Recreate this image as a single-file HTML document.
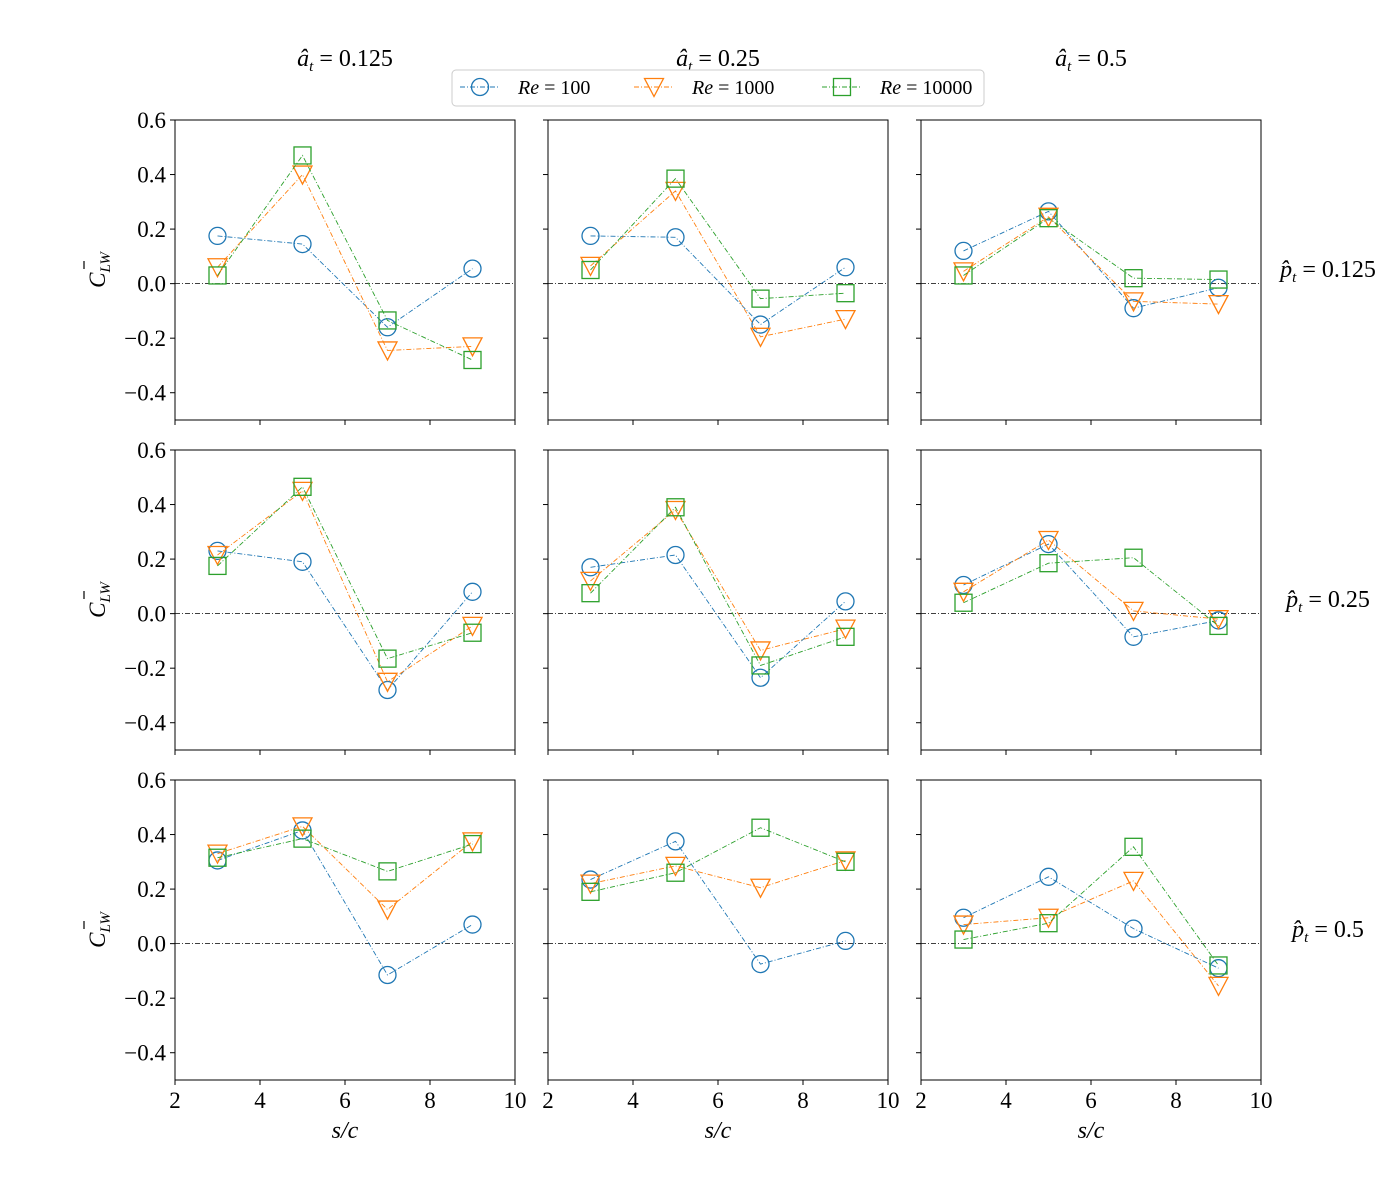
<!DOCTYPE html>
<html><head><meta charset="utf-8"><style>
body{margin:0;background:#fff}
svg{display:block;font-family:"Liberation Serif",serif}
</style></head><body>
<svg id="chart" width="1400" height="1200" viewBox="0 0 1400 1200" xmlns="http://www.w3.org/2000/svg"></svg>
<script>
const xCats=[3,5,7,9];
const xTicks=[2,4,6,8,10];
const yTicks=[-0.4,-0.2,0.0,0.2,0.4,0.6];
const colTitles=["0.125","0.25","0.5"];
const rowTitles=["0.125","0.25","0.5"];
const seriesNames=["Re = 100","Re = 1000","Re = 10000"];
// values[row][col]
const re100=[
 [[0.175,0.145,-0.16,0.055],[0.175,0.17,-0.15,0.06],[0.12,0.265,-0.09,-0.015]],
 [[0.23,0.19,-0.28,0.08],[0.17,0.215,-0.235,0.045],[0.105,0.255,-0.085,-0.025]],
 [[0.305,0.415,-0.115,0.07],[0.235,0.375,-0.075,0.01],[0.095,0.245,0.055,-0.09]]];
const re1000=[
 [[0.06,0.40,-0.245,-0.23],[0.065,0.34,-0.195,-0.13],[0.045,0.245,-0.065,-0.075]],
 [[0.215,0.45,-0.25,-0.045],[0.12,0.38,-0.135,-0.055],[0.08,0.27,0.01,-0.02]],
 [[0.33,0.43,0.125,0.375],[0.22,0.285,0.205,0.305],[0.07,0.095,0.23,-0.155]]];
const re10000=[
 [[0.03,0.47,-0.135,-0.28],[0.05,0.385,-0.055,-0.035],[0.03,0.24,0.02,0.015]],
 [[0.175,0.465,-0.165,-0.07],[0.075,0.39,-0.19,-0.085],[0.04,0.185,0.205,-0.045]],
 [[0.315,0.385,0.265,0.365],[0.19,0.26,0.425,0.30],[0.015,0.075,0.355,-0.08]]];

const NS="http://www.w3.org/2000/svg";
const svg=document.getElementById('chart');
function el(t,a,p){const e=document.createElementNS(NS,t);for(const k in a)e.setAttribute(k,a[k]);(p||svg).appendChild(e);return e;}
const colX=[175,548,921], W=340, rowY=[120,450,780], H=300;
const xmin=2,xmax=10,ymin=-0.5,ymax=0.6;
const colors=["#1f77b4","#ff7f0e","#2ca02c"];
const allSeries=[re100,re1000,re10000];
function marker(g,type,cx,cy,c){
  let m;
  if(type===0)m=el('circle',{cx:cx,cy:cy,r:8.5,fill:'none',stroke:c,'stroke-width':1.3},g);
  else if(type===1)m=el('polygon',{points:`${cx-9.5},${cy-8.5} ${cx+9.5},${cy-8.5} ${cx},${cy+9.5}`,fill:'none',stroke:c,'stroke-width':1.3},g);
  else m=el('rect',{x:cx-8.5,y:cy-8.5,width:17,height:17,fill:'none',stroke:c,'stroke-width':1.3},g);
  return m;
}
for(let r=0;r<3;r++)for(let c=0;c<3;c++){
  const x0=colX[c],y0=rowY[r];
  const sx=v=>x0+(v-xmin)/(xmax-xmin)*W;
  const sy=v=>y0+(ymax-v)/(ymax-ymin)*H;
  const g=el('g',{});
  
  
  const zl=el('line',{x1:x0,x2:x0+W,y1:sy(0),y2:sy(0),stroke:'#000','stroke-width':0.8,'stroke-dasharray':'5,2,1,2'},g);
  
  
  for(let s=0;s<3;s++){
    const vals=allSeries[s][r][c];
    const pts=xCats.map((x,i)=>`${sx(x)},${sy(vals[i])}`).join(' ');
    const pl=el('polyline',{points:pts,fill:'none',stroke:colors[s],'stroke-width':0.9,'stroke-dasharray':'5,2,1,2'},g);
    
    
    xCats.forEach((x,i)=>{
      const m=marker(g,s,sx(x),sy(vals[i]),colors[s]);
      
      
    });
  }
  const fr=el('rect',{x:x0,y:y0,width:W,height:H,fill:'none',stroke:'#000','stroke-width':1},g);
  
  
  xTicks.forEach(t=>{
    el('line',{x1:sx(t),x2:sx(t),y1:y0+H,y2:y0+H+5,stroke:'#000','stroke-width':1},g);
    if(r===2){const tx=el('text',{x:sx(t),y:y0+H+28,'font-size':23,'text-anchor':'middle'},g);tx.textContent=t;
      }
  });
  yTicks.forEach(t=>{
    el('line',{x1:x0-5,x2:x0,y1:sy(t),y2:sy(t),stroke:'#000','stroke-width':1},g);
    if(c===0){const tx=el('text',{x:x0-9,y:sy(t)+8,'font-size':23,'text-anchor':'end'},g);
      tx.textContent=(t<0?'\u2212':'')+Math.abs(t).toFixed(1);
      }
  });
  if(c===0){
    const yl=el('text',{x:0,y:0,'font-size':23,'font-style':'italic',transform:`translate(105,${y0+150}) rotate(-90)`,'text-anchor':'middle'},g);
    yl.innerHTML='C<tspan font-size="15" dy="5">LW</tspan>';
    
    el('line',{x1:84,x2:84,y1:y0+141,y2:y0+149,stroke:'#000','stroke-width':1.2},g);
  }
  if(r===2){
    const xl=el('text',{x:x0+W/2,y:y0+H+58,'font-size':24,'font-style':'italic','text-anchor':'middle'},g);
    xl.textContent='s/c';
    
  }
  if(r===0){
    const t=el('text',{x:x0+W/2,y:66,'font-size':24,'text-anchor':'middle'},g);
    t.innerHTML='<tspan font-style="italic">â</tspan><tspan font-style="italic" font-size="15" dy="5">t</tspan><tspan dy="-5"> = '+colTitles[c]+'</tspan>';
    
  }
  if(c===2){
    const t=el('text',{x:1328,y:y0+157,'font-size':24,'text-anchor':'middle'},g);
    t.innerHTML='<tspan font-style="italic">p̂</tspan><tspan font-style="italic" font-size="15" dy="5">t</tspan><tspan dy="-5"> = '+rowTitles[r]+'</tspan>';
    
  }
}
// legend
const lg=el('g',{});


el('rect',{x:452,y:70,width:532,height:36,rx:4,fill:'#fff',stroke:'#ccc','stroke-width':1},lg);
const lx=[460,634,822];
for(let s=0;s<3;s++){
  const e=el('g',{},lg);
  
  
  el('line',{x1:lx[s],x2:lx[s]+40,y1:87,y2:87,stroke:colors[s],'stroke-width':0.9,'stroke-dasharray':'5,2,1,2'},e);
  marker(e,s,lx[s]+20,87,colors[s]);
  const t=el('text',{x:lx[s]+58,y:94,'font-size':20},e);
  t.innerHTML='<tspan font-style="italic">Re</tspan> = '+seriesNames[s].split('= ')[1];
}
</script>
</body></html>
